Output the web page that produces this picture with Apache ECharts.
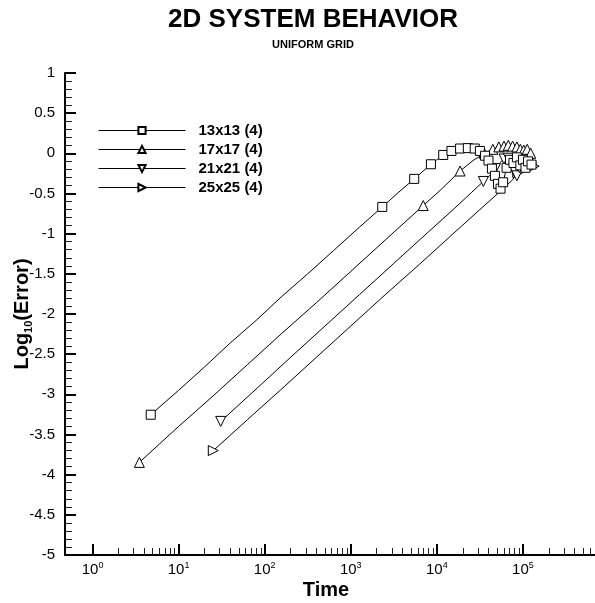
<!DOCTYPE html>
<html>
<head>
<meta charset="utf-8">
<script src="https://cdn.jsdelivr.net/npm/echarts@6/dist/echarts.min.js"></script>
<style>html,body{margin:0;padding:0;background:#fff;}#chart{width:595px;height:603px;}</style>
</head>
<body>
<div id="chart"></div>
<script>
// ---- data (x = log10(Time), y = log10(Error)) ----
const seriesNames = ['13x13 (4)', '17x17 (4)', '21x21 (4)', '25x25 (4)'];

const s1LogTime = [0.676, 1.0, 1.3, 1.6, 1.9, 2.2, 2.5, 2.8, 3.1, 3.366, 3.55, 3.737, 3.931, 4.074, 4.17, 4.27, 4.36, 4.44, 4.50, 4.56, 4.60, 4.64, 4.675, 4.71, 4.74, 4.77, 4.81, 4.85, 4.89, 4.93, 4.97, 5.0, 5.03, 5.06, 5.1];
const s1Err     = [-3.254, -2.95, -2.66, -2.36, -2.08, -1.78, -1.50, -1.21, -0.92, -0.667, -0.49, -0.318, -0.136, -0.02, 0.03, 0.06, 0.065, 0.06, 0.03, -0.03, -0.09, -0.19, -0.28, -0.38, -0.44, -0.36, -0.18, -0.08, -0.12, -0.05, -0.15, -0.08, -0.18, -0.10, -0.14];
const s1Marked  = [1, 0, 0, 0, 0, 0, 0, 0, 0, 1, 0, 1, 1, 1, 1, 1, 1, 1, 1, 1, 1, 1, 1, 1, 1, 1, 1, 1, 1, 1, 1, 1, 1, 1, 1];

const s2LogTime = [0.544, 1.0, 1.4, 1.8, 2.2, 2.6, 3.0, 3.4, 3.842, 4.05, 4.27, 4.42, 4.55, 4.65, 4.72, 4.78, 4.83, 4.88, 4.93, 4.97, 5.01, 5.05, 5.09];
const s2Err     = [-3.847, -3.40, -3.02, -2.63, -2.24, -1.86, -1.47, -1.08, -0.65, -0.45, -0.22, -0.09, 0.0, 0.05, 0.08, 0.09, 0.10, 0.09, 0.08, 0.05, 0.04, 0.05, 0.0];
const s2Marked  = [1, 0, 0, 0, 0, 0, 0, 0, 1, 0, 1, 0, 1, 1, 1, 1, 1, 1, 1, 1, 1, 1, 1];

const s3LogTime = [1.489, 1.9, 2.3, 2.7, 3.1, 3.5, 3.9, 4.2, 4.4, 4.54, 4.62, 4.68, 4.73, 4.78, 4.83, 4.87, 4.90, 4.93, 4.96, 5.0, 5.03, 5.07];
const s3Err     = [-3.337, -2.935, -2.54, -2.15, -1.76, -1.37, -0.98, -0.69, -0.49, -0.35, -0.27, -0.19, -0.12, -0.07, -0.06, -0.12, -0.22, -0.28, -0.18, -0.10, -0.16, -0.08];
const s3Marked  = [1, 0, 0, 0, 0, 0, 0, 0, 0, 1, 0, 1, 0, 1, 1, 1, 1, 1, 1, 1, 1, 1];

const s4LogTime = [1.403, 1.8, 2.2, 2.6, 3.0, 3.4, 3.8, 4.2, 4.5, 4.75, 4.88, 4.94, 4.98, 5.01, 5.04, 5.07, 5.1, 5.13];
const s4Err     = [-3.70, -3.315, -2.93, -2.54, -2.15, -1.76, -1.38, -0.99, -0.70, -0.46, -0.33, -0.24, -0.14, -0.20, -0.10, -0.17, -0.12, -0.16];
const s4Marked  = [1, 0, 0, 0, 0, 0, 0, 0, 0, 0, 0, 1, 1, 1, 1, 1, 1, 1];

const xMajorTicks = [0, 1, 2, 3, 4, 5];          // log10 of 10^0 .. 10^5
const xMinorMultipliers = [2, 3, 4, 5, 6, 7, 8, 9];
const yMin = -5, yMax = 1, yStep = 0.5;
// -----------------------------------------------

const FONT = '"Liberation Sans", Arial, Helvetica, sans-serif';
const xMinorTicks = [];
xMajorTicks.concat([6]).forEach(function (d) {
  xMinorMultipliers.forEach(function (k) { xMinorTicks.push(d + Math.log10(k)); });
});

function buildData(xs, ys, marks) {
  return xs.map(function (x, i) {
    const item = { value: [x, ys[i]] };
    if (!marks[i]) item.symbol = 'none';
    return item;
  });
}

const symbolDefs = [
  { symbol: 'rect', rotate: 0, size: 9 },
  { symbol: 'triangle', rotate: 0, size: 10 },
  { symbol: 'triangle', rotate: 180, size: 10 },
  { symbol: 'triangle', rotate: -90, size: 10 }
];
const allData = [
  buildData(s1LogTime, s1Err, s1Marked),
  buildData(s2LogTime, s2Err, s2Marked),
  buildData(s3LogTime, s3Err, s3Marked),
  buildData(s4LogTime, s4Err, s4Marked)
];

const series = seriesNames.map(function (name, i) {
  return {
    name: name,
    type: 'line',
    xAxisIndex: 0,
    yAxisIndex: 0,
    data: allData[i],
    symbol: symbolDefs[i].symbol,
    symbolRotate: symbolDefs[i].rotate,
    symbolSize: symbolDefs[i].size,
    showSymbol: true,
    showAllSymbol: true,
    animation: false,
    lineStyle: { color: '#000', width: 1 },
    itemStyle: { color: '#fff', borderColor: '#000', borderWidth: 1 },
    emphasis: { disabled: true },
    z: 5 - i
  };
});

const chart = echarts.init(document.getElementById('chart'), null, { renderer: 'canvas' });
chart.setOption({
  animation: false,
  backgroundColor: '#fff',
  textStyle: { fontFamily: FONT },
  graphic: [
    { type: 'text', x: 313, y: 20, style: { text: '2D SYSTEM BEHAVIOR', fontFamily: FONT, fontWeight: 'bold', fontSize: 26, fill: '#000', align: 'center', verticalAlign: 'middle' } },
    { type: 'text', x: 313, y: 45, style: { text: 'UNIFORM GRID', fontFamily: FONT, fontWeight: 'bold', fontSize: 11, fill: '#000', align: 'center', verticalAlign: 'middle' } }
  ],
  legend: {
    orient: 'vertical',
    left: 93,
    top: 118,
    itemWidth: 87,
    itemHeight: 9,
    itemGap: 4,
    data: seriesNames,
    selectedMode: false,
    lineStyle: { width: 1 },
    textStyle: { fontFamily: FONT, fontSize: 15, fontWeight: 'bold', color: '#000', padding: [0, 0, 0, 8] }
  },
  grid: { left: 65, top: 73, width: 544, height: 482, containLabel: false, outerBoundsMode: 'none' },
  xAxis: [
    {
      type: 'value', position: 'bottom', min: -0.32, max: 6,
      name: 'Time', nameLocation: 'middle', nameGap: 25, nameMoveOverlap: false,
      nameTextStyle: { fontFamily: FONT, fontSize: 20, fontWeight: 'bold', color: '#000', padding: [0, 22, 0, 0] },
      axisLine: { onZero: false, lineStyle: { color: '#000', width: 2 } },
      axisTick: { inside: true, length: 11, lineStyle: { color: '#000', width: 2 }, customValues: xMajorTicks },
      axisLabel: {
        customValues: xMajorTicks, margin: 6, color: '#000',
        formatter: function (v) { return '10{sup|' + Math.round(v) + '}'; },
        fontFamily: FONT, fontSize: 15, lineHeight: 18,
        rich: { sup: { fontFamily: FONT, fontSize: 9, verticalAlign: 'top', lineHeight: 18, padding: [0, 0, 8, 0] } }
      },
      splitLine: { show: false }
    },
    {
      type: 'value', position: 'bottom', min: -0.32, max: 6,
      axisLine: { show: false, onZero: false },
      axisTick: { inside: true, length: 7, lineStyle: { color: '#222', width: 1 }, customValues: xMinorTicks },
      axisLabel: { show: false },
      splitLine: { show: false }
    }
  ],
  yAxis: {
    type: 'value', min: yMin, max: yMax, interval: yStep,
    name: 'Log{sub|10}(Error)', nameLocation: 'middle', nameGap: 31, nameRotate: 90, nameMoveOverlap: false,
    nameTextStyle: {
      fontFamily: FONT, fontSize: 20, fontWeight: 'bold', color: '#000', lineHeight: 24,
      rich: { sub: { fontFamily: FONT, fontSize: 11, fontWeight: 'bold', verticalAlign: 'bottom', lineHeight: 24, padding: [6, 0, 0, 0] } }
    },
    axisLine: { onZero: false, lineStyle: { color: '#000', width: 2 } },
    axisTick: { inside: true, length: 11, lineStyle: { color: '#000', width: 2 } },
    minorTick: { show: true, splitNumber: 5, length: 7, lineStyle: { color: '#222', width: 1 } },
    axisLabel: { margin: 10, color: '#000', fontFamily: FONT, fontSize: 15 },
    splitLine: { show: false },
    minorSplitLine: { show: false }
  },
  series: series
});
</script>
</body>
</html>
